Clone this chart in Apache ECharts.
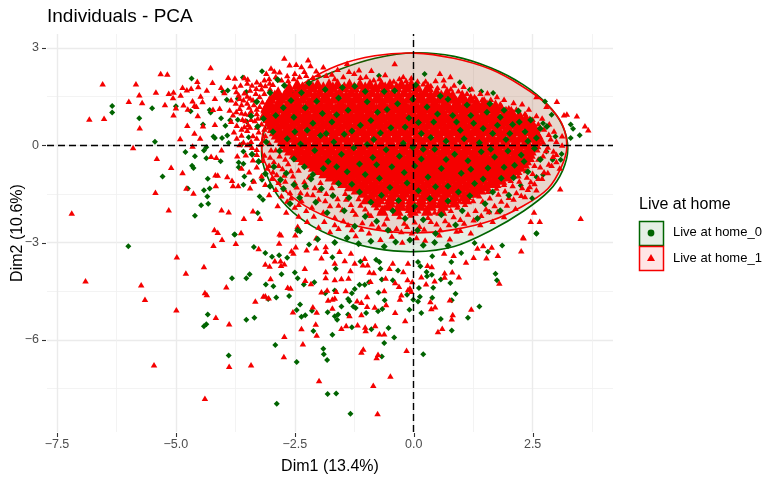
<!DOCTYPE html>
<html><head><meta charset="utf-8">
<script src="https://cdn.jsdelivr.net/npm/echarts@6/dist/echarts.min.js"></script>
<style>html,body{margin:0;background:#fff}#c{width:771px;height:479px}</style></head>
<body><div id="c"></div>
<script>
const xTicks=[-7.5,-5,-2.5,0,2.5];
const xTickLabels=['−7.5','−5.0','−2.5','0.0','2.5'];
const xMinor=[-6.25,-3.75,-1.25,1.25,3.75];
const yTicks=[-6,-3,0,3];
const yTickLabels=['−6','−3','0','3'];
const yMinor=[-7.5,-4.5,-1.5,1.5];
const ellipseRed=[[3.22,-.03],[3.11,.68],[2.79,1.27],[2.28,1.82],[1.62,2.34],[.84,2.68],[.01,2.84],[-.82,2.76],[-1.6,2.46],[-2.26,1.96],[-2.77,1.36],[-3.09,.72],[-3.2,0],[-3.09,-.65],[-2.77,-1.31],[-2.26,-1.89],[-1.6,-2.33],[-.82,-2.6],[.01,-2.7],[.84,-2.6],[1.62,-2.33],[2.28,-1.89],[2.82,-1.34],[3.11,-.65]];
const ellipseGreen=[[3.24,-.1],[3.13,.6],[2.81,1.26],[2.3,1.87],[1.63,2.38],[.85,2.74],[.02,2.85],[-.81,2.68],[-1.59,2.32],[-2.26,1.88],[-2.77,1.33],[-3.09,.68],[-3.2,-.2],[-3.09,-.92],[-2.77,-1.72],[-2.26,-2.38],[-1.59,-2.87],[-.81,-3.18],[.02,-3.28],[.85,-3.12],[1.63,-2.62],[2.32,-2.02],[2.85,-1.4],[3.13,-.78]];
// Overplotted mass of Live at home_1 (rows: y, then x values)
const redCoreRows=[
[1.9,[-2.45,-2.22,-2.02,-1.78,-1.6,-1.35,-1.13,-.92,-.68,-.5,-.26,-.05]],
[1.8,[-2.62,-2.34,-2.12,-1.9,-1.7,-1.46,-1.25,-1.02,-.8,-.6,-.36,-.14,.08,.3]],
[1.65,[-2.85,-2.63,-2.42,-2.2,-1.98,-1.75,-1.55,-1.31,-1.08,-.88,-.64,-.44,-.2,.03,.24,.48,.7]],
[1.55,[-2.92,-2.72,-2.5,-2.3,-2.08,-1.86,-1.64,-1.42,-1.2,-.98,-.76,-.54,-.32,-.08,.14,.36,.58,.82,1.02]],
[1.45,[-3,-2.78,-2.55,-2.34,-2.1,-1.88,-1.67,-1.43,-1.22,-1,-.78,-.55,-.34,-.1,.12,.34,.55,.78,1,1.2]],
[1.35,[-3.04,-2.84,-2.62,-2.44,-2.2,-1.98,-1.78,-1.54,-1.32,-1.1,-.9,-.66,-.44,-.22,0,.22,.44,.66,.9,1.1,1.32,1.48]],
[1.25,[-3.08,-2.86,-2.66,-2.42,-2.2,-1.98,-1.76,-1.54,-1.33,-1.1,-.87,-.66,-.44,-.22,0,.22,.44,.66,.88,1.1,1.32,1.54,1.72]],
[1.15,[-3.1,-2.96,-2.76,-2.54,-2.32,-2.1,-1.88,-1.65,-1.44,-1.22,-1,-.78,-.56,-.34,-.12,.1,.32,.54,.76,.98,1.2,1.42,1.64,1.84]],
[1.05,[-3.1,-2.9,-2.67,-2.45,-2.24,-2.02,-1.8,-1.57,-1.35,-1.13,-.92,-.7,-.47,-.25,-.03,.19,.41,.62,.85,1.07,1.28,1.5,1.72,1.94,2.05]],
[.95,[-3.12,-2.95,-2.74,-2.52,-2.3,-2.08,-1.86,-1.64,-1.42,-1.2,-.98,-.76,-.54,-.32,-.1,.12,.34,.56,.78,1,1.22,1.44,1.66,1.88,2.1,2.22]],
[.85,[-3.06,-2.84,-2.62,-2.4,-2.18,-1.96,-1.74,-1.52,-1.3,-1.08,-.86,-.64,-.42,-.2,.02,.24,.46,.68,.9,1.12,1.34,1.56,1.78,2,2.22,2.36]],
[.75,[-3.02,-2.92,-2.7,-2.48,-2.26,-2.04,-1.82,-1.6,-1.38,-1.16,-.94,-.72,-.5,-.28,-.06,.16,.38,.6,.82,1.04,1.26,1.48,1.7,1.92,2.14,2.36,2.44]],
[.65,[-3,-2.78,-2.56,-2.33,-2.12,-1.9,-1.68,-1.45,-1.23,-1.02,-.8,-.58,-.36,-.14,.08,.3,.52,.74,.96,1.18,1.4,1.62,1.84,2.06,2.28,2.5]],
[.55,[-2.96,-2.86,-2.64,-2.42,-2.2,-1.98,-1.76,-1.54,-1.32,-1.1,-.88,-.66,-.44,-.22,0,.22,.44,.66,.88,1.1,1.32,1.54,1.76,1.98,2.2,2.42,2.54]],
[.45,[-2.92,-2.7,-2.48,-2.26,-2.04,-1.82,-1.6,-1.38,-1.16,-.94,-.72,-.5,-.28,-.06,.16,.38,.6,.82,1.04,1.26,1.48,1.7,1.92,2.14,2.36,2.56]],
[.35,[-2.88,-2.78,-2.56,-2.34,-2.12,-1.9,-1.68,-1.46,-1.24,-1.02,-.8,-.58,-.36,-.14,.08,.3,.52,.74,.96,1.18,1.4,1.62,1.84,2.06,2.28,2.5,2.6]],
[.25,[-2.82,-2.6,-2.38,-2.16,-1.94,-1.72,-1.5,-1.28,-1.06,-.84,-.62,-.4,-.18,.04,.26,.48,.7,.92,1.14,1.36,1.58,1.8,2.02,2.24,2.46,2.62]],
[.15,[-2.76,-2.7,-2.48,-2.26,-2.04,-1.82,-1.6,-1.38,-1.16,-.94,-.72,-.5,-.28,-.06,.16,.38,.6,.82,1.04,1.26,1.48,1.7,1.92,2.14,2.36,2.58]],
[.05,[-2.72,-2.5,-2.28,-2.06,-1.84,-1.62,-1.4,-1.18,-.96,-.74,-.52,-.3,-.08,.14,.36,.58,.8,1.02,1.24,1.46,1.68,1.9,2.12,2.34,2.56]],
[-.05,[-2.66,-2.4,-2.18,-1.96,-1.74,-1.52,-1.3,-1.08,-.86,-.64,-.42,-.2,.02,.24,.46,.68,.9,1.12,1.34,1.56,1.78,2,2.22,2.44,2.54]],
[-.15,[-2.6,-2.38,-2.16,-1.94,-1.72,-1.5,-1.28,-1.06,-.84,-.62,-.4,-.18,.04,.26,.48,.7,.92,1.14,1.36,1.58,1.8,2.02,2.24,2.46]],
[-.25,[-2.5,-2.28,-2.06,-1.84,-1.62,-1.4,-1.18,-.96,-.74,-.52,-.3,-.08,.14,.36,.58,.8,1.02,1.24,1.46,1.68,1.9,2.12,2.34,2.44]],
[-.35,[-2.42,-2.2,-1.98,-1.76,-1.54,-1.32,-1.1,-.88,-.66,-.44,-.22,0,.22,.44,.66,.88,1.1,1.32,1.54,1.76,1.98,2.2,2.42]],
[-.45,[-2.32,-2.1,-1.88,-1.66,-1.44,-1.22,-1,-.78,-.56,-.34,-.12,.1,.32,.54,.76,.98,1.2,1.42,1.64,1.86,2.08,2.3,2.36]],
[-.55,[-2.22,-2,-1.78,-1.56,-1.34,-1.12,-.9,-.68,-.46,-.24,-.02,.2,.42,.64,.86,1.08,1.3,1.52,1.74,1.96,2.18,2.32]],
[-.65,[-2.1,-1.88,-1.66,-1.44,-1.22,-1,-.78,-.56,-.34,-.12,.1,.32,.54,.76,.98,1.2,1.42,1.64,1.86,2.08,2.24]],
[-.75,[-2,-1.78,-1.56,-1.34,-1.12,-.9,-.68,-.46,-.24,-.02,.2,.42,.64,.86,1.08,1.3,1.52,1.74,1.96,2.16]],
[-.85,[-1.88,-1.66,-1.44,-1.22,-1,-.78,-.56,-.34,-.12,.1,.32,.54,.76,.98,1.2,1.42,1.64,1.86,2.06]],
[-.95,[-1.75,-1.53,-1.31,-1.09,-.87,-.65,-.43,-.21,.01,.23,.45,.67,.89,1.11,1.33,1.55,1.77,1.95]],
[-1.05,[-1.62,-1.4,-1.18,-.96,-.74,-.52,-.3,-.08,.14,.36,.58,.8,1.02,1.24,1.46,1.68,1.84]],
[-1.15,[-1.48,-1.26,-1.04,-.82,-.6,-.38,-.16,.06,.28,.5,.72,.94,1.16,1.38,1.6,1.72]],
[-1.25,[-1.34,-1.12,-.9,-.68,-.46,-.24,-.02,.2,.42,.64,.86,1.08,1.3,1.52]],
[-1.35,[-1.2,-.98,-.76,-.54,-.32,-.1,.12,.34,.56,.78,1,1.22,1.4]],
[-1.45,[-1.06,-.84,-.62,-.4,-.18,.04,.26,.48,.7,.92,1.14,1.28]],
[-1.55,[-.9,-.68,-.46,-.24,-.02,.2,.42,.64,.86,1.06]],
[-1.65,[-1,-.72,-.5,-.28,-.06,.16,.38,.6,.82,1.1]],
[-1.75,[-.78,-.5,-.28,-.06,.16,.38,.6,.86]],
[-1.85,[-.52,-.3,-.08,.14,.36,.62]],
[-2,[-.66,-.34,-.02,.28,.58]]
];
// Individually readable triangles, Live at home_1
const redEdge=[[-6.82,.81],[-6.51,.83],[-6.54,1.9],[-7.19,-2.09],[-5.84,1.9],[-5.77,1.56],[-5.99,1.36],[-5.71,1.32],[-5.76,.54],[-5.9,-.07],[-5.42,1.64],[-5.32,2.21],[-5.18,2.2],[-5.23,1.26],[-5.4,-.4],[-5.1,-.68],[-5.43,-1.45],[-5.15,-1.99],[-4.86,-.84],[-4.91,.21],[-5.05,.94],[-5.15,1.6],[-5.05,1.64],[-5.06,1.47],[-4.9,1.55],[-4.86,1.79],[-5,1.16],[-4.84,1.25],[-4.75,1.12],[-4.76,.62],[-4.65,1.37],[-4.61,1.23],[-4.77,1.71],[-4.68,1.76],[-4.55,1.97],[-4.53,1.81],[-4.27,2.4],[-4.23,1.94],[-4.35,1.7],[-4.48,1.52],[-4.44,1.35],[-4.57,1.2],[-4.54,.92],[-4.43,.6],[-4.61,.38],[-4.49,.22],[-4.65,-.02],[-4.18,1.45],[-4.22,1.11],[-4.08,1.14],[-4.18,.65],[-4.26,-.34],[-4.15,-.37],[-4.04,-.14],[-4.17,-.91],[-4.12,-.92],[-4.78,-1.32],[-4.63,-1.47],[-4.16,-1.24],[-4.04,-1.99],[-3.89,-2.05],[-3.92,-.96],[-3.82,-1.08],[-3.8,-1.24],[-3.69,-1.24],[-3.57,-2.25],[-3.38,-2.02],[-3.23,-2.25],[-3.44,-1.31],[-3.9,2.1],[-3.76,2.07],[-3.56,2.09],[-3.49,2.04],[-4.05,1.79],[-3.76,1.81],[-3.73,1.66],[-3.98,1.63],[-3.84,1.4],[-3.66,1.45],[-3.87,1.09],[-3.73,1.04],[-3.71,-.32],[-3.53,-.29],[-3.38,-.45],[-4.19,-2.6],[-4.12,-2.68],[-3.63,-2.69],
[-6.9,-4.18],[-5.73,-4.3],[-5.65,-4.75],[-4.98,-3.44],[-4.79,-3.94],[-4.99,-5.07],[-5.46,-6.77],[-4.41,-3.74],[-4.39,-4.54],[-4.35,-4.6],[-4.39,-7.8],[-4.16,-5.3],[-3.88,-5.5],[-3.94,-4.36],[-3.88,-6.81],[-3.42,-6.77],[-4.21,-3.08],[-4.03,-2.9],[-3.74,-3.02],[-3.26,-3.18],[-3.33,-4.8],[-3.16,-4.65],[-3.12,-4.64],[-3.05,-4.7],[-3.01,-4.11],[-3.12,-3.66],[-3.03,-3.72],[-2.92,-3.56],[-2.8,-3.56],[-2.79,-3.7],[-2.72,-3.65],[-2.83,-3.01],[-2.82,-2.73],[-2.79,-2.76],[-2.49,-2.76],[-2.48,-3.13],[-2.57,-3.25],[-2.53,-3.32],[-2.65,-4.38],[-2.59,-4.4],[-2.72,-5.89],[-2.73,-6.51],[-2.54,-5.13],[-2.29,-3.79],[-2.28,-4.16],[-2.16,-4.26],[-2.25,-3.22],[-2.05,-3.16],[-2.05,-2.85],[-2.36,-5.65],[-2.33,-6.12],[-2.12,-4.98],[-2.04,-5.14],[-2.06,-5.51],[-2.04,-5.85],[-1.99,-7.25],[-1.94,-3.47],[-1.85,-3.12],[-1.85,-3.27],[-1.85,-3.89],[-1.85,-4.08],[-1.94,-4.52],[-1.8,-4.77],[-1.82,-4.46],
[2.31,-2.85],[2.26,-3.25],[1.77,-3.39],[1.53,-3.47],[1.26,-3.45],[1.1,-3.6],[1.64,-3.14],[1.34,-3.17],[1.46,-3.09],[1.8,-4.25],[.81,-3.9],[.65,-3.93],[.65,-4.06],[.95,-4.05],[.44,-4.18],[.26,-4.27],[.16,-4.05],[.29,-3.7],[.38,-3.74],[.64,-3.32],[.84,-3.39],[.76,-4.76],[.35,-4.82],[.37,-5.03],[.45,-4.98],[1.21,-5.05],[.82,-5.22],[.8,-5.35],[.6,-5.64],[.51,-5.74],[-.08,-4.4],[-.12,-4.45],[-.05,-4.5],[-.13,-4.14],[-.03,-4.2],[-.18,-5.4],[-.15,-6.32],[-.26,-4.61],[-.29,-4.74],[-.39,-5.15],[-.31,-4.35],[-.39,-4.23],[-.44,-3.63],[-.59,-4.09],[-.58,-4.91],[-.82,-4.99],[-.98,-4.96],[-.98,-4.66],[-1.1,-4.84],[-1.1,-5.22],[-1.19,-4.79],[-.62,-4.48],[-.91,-4.19],[-.84,-3.92],[-.93,-3.91],[-1.37,-4.09],[-1.52,-4.11],[-1.66,-4.14],[-1.43,-4.48],[-1.63,-4.5],[-1.66,-4.71],[-1.71,-4.74],[-1.71,-5.02],[-1.35,-5.25],[-1.52,-5.64],[-1.42,-5.56],[-1.18,-5.53],[-1.02,-5.6],[-1.01,-5.71],[-.81,-5.56],[-.72,-5.81],[-.62,-5.81],[-1.06,-6.28],[-1.1,-6.37],[-.75,-6.44],[-.78,-6.54],[-.49,-7.11],[-.85,-7.4],[-.76,-8.27],[-1.45,-3.55],[-1.66,-3.63],[-1.33,-3.86],[-.97,-3.68],[-1.07,-3.68],[-1.24,-3.63],[-1.56,-3.27],[-1.32,-3.32],[-1.03,-3.48],[-.51,-3.79],[-.22,-3.89],[-.12,-3.63],
[3.51,-2.25],[3.08,-1.34],[3.67,.48],[3.6,.6],[3.43,.91],[3.22,.96],[3.16,.94],[3.01,1.36],[2.53,-2.06],[2.46,-2.34],[2.65,-2.34],[2.3,-2.83],[3.12,.29],[3.12,.01],[3,-.5],[3.07,-.7],[2.93,-.34],[2.58,1.5],[2.79,1.2],[2.44,-1.27],[2.58,-1.37],[2.34,-1.58],[-.4,2.52],[.55,2.22],[.77,2.12],[-1.15,2.33],[-.89,2.31],[-1.4,2.53],[.46,2],[.63,2.02],[-.22,2.12]];
// Triangles around the edge of the mass, Live at home_1
const redBand=[[-2.72,2.69],[-2.61,2.48],[-2.47,2.5],[-2.36,2.43],[-2.22,2.64],[-2.17,2.46],[-3.1,2.22],[-3,2.38],[-2.93,2.29],[-3.14,2.02],[-2.82,2.27],[-3.03,1.92],[-3.31,1.76],[-3.24,1.5],[-3.38,1.4],[-2.66,2.15],[-2.5,2.22],[-2.3,2.28],[-2.05,2.3],[-1.9,2.42],[-1.72,2.2],[-1.6,2.34],[-1.25,2.22],[-1,2.12],[-.6,2.18],[-.05,2.08],[.25,1.98],[.85,1.86],[1.05,1.82],[1.22,1.74],[1.4,1.6],[1.55,1.62],[1.75,1.5],[1.9,1.42],[2.1,1.32],[2.28,1.28],[2.42,1.12],[2.58,.92],[2.7,.84],[2.85,.66],[2.95,.44],[2.88,.2],[3,.12],[2.82,-.05],[2.94,-.18],[2.72,-.32],[2.84,-.58],[2.66,-.66],[2.74,-.82],[2.5,-.86],[2.62,-1.02],[2.38,-.98],[2.46,-1.12],[2.22,-1.1],[2.28,-1.3],[2.08,-1.24],[2.16,-1.46],[1.92,-1.4],[2,-1.6],[1.78,-1.5],[1.84,-1.72],[1.6,-1.62],[1.7,-1.86],[1.45,-1.72],[1.52,-1.96],[1.25,-1.7],[1.3,-2],[1.08,-1.82],[1.14,-2.12],[.92,-1.9],[.98,-2.28],[.78,-2],[.84,-2.2],[.6,-1.98],[.66,-2.32],[.44,-2.06],[.48,-2.42],[.26,-1.96],[.3,-2.22],[.1,-2.02],[.12,-2.5],[-.06,-2.15],[-.04,-2.7],[-.22,-1.92],[-.2,-2.4],[-.4,-2.08],[-.36,-2.56],[-.55,-1.86],[-.56,-2.24],[-.7,-2.02],[-.74,-2.52],[-.86,-1.76],[-.9,-2.16],[-1.02,-1.96],[-1.08,-2.38],[-1.16,-1.64],[-1.22,-2.12],[-1.32,-1.82],[-1.38,-2.44],[-1.44,-1.48],[-1.5,-1.98],[-1.6,-1.64],[-1.66,-2.22],[-1.72,-1.3],[-1.76,-1.86],[-1.84,-1.48],[-1.9,-2.06],[-1.96,-1.14],[-2,-1.66],[-2.08,-1.3],[-2.14,-1.9],[-2.2,-.96],[-2.24,-1.5],[-2.3,-1.12],[-2.36,-1.7],[-2.42,-.76],[-2.46,-1.28],[-2.54,-.94],[-2.6,-1.46],[-2.64,-.56],[-2.7,-1.1],[-2.76,-.72],[-2.82,-.32],[-2.88,-.9],[-2.94,-.5],[-3,-.14],[-3.08,-.7],[-3.14,-.3],[-3.2,.06],[-3.3,-.12],[-3.4,-.06],[-3.5,.02],[-3.12,.3],[-3.26,.42],[-3.38,.3],[-3.5,.46],[-3.62,.32],[-3.72,.22],[-3.2,.66],[-3.34,.76],[-3.48,.64],[-3.6,.8],[-3.72,.62],[-3.84,.74],[-3.3,.98],[-3.42,1.06],[-3.54,.98],[-3.66,1.14],[-3.24,1.2],[-3.36,1.26],[-3.5,1.3],[-3.62,1.26],[-3.2,1.74],[-3.3,1.96],[-3.44,1.7],[-3.56,1.62],[-3.04,2.06],[-3.64,1.86],[-3.22,.04],[-3.62,-.7],[-3.46,-.82],[-3.3,-.66],[-3.2,-.94],[-3.36,-1.1],[-3.12,-1.2],[-2.98,-1.02],[-2.9,-1.36],[-3.04,-1.52],[-2.78,-1.56],[-2.66,-1.72],[-2.86,-1.86],[-2.5,-1.9],[-2.68,-2.06],[-2.42,-2.18],[-2.24,-2.34],[-2.44,-2.5],[-2,-2.52],[-1.76,-2.66],[-1.58,-2.56],[-1.22,-2.78],[-.94,-2.7],[-.7,-2.9],[-.46,-2.8],[-.24,-2.98],[.06,-2.84],[.24,-2.92],[.54,-2.76],[.76,-2.88],[.98,-2.62],[1.2,-2.7],[1.4,-2.44],[1.66,-2.34],[1.9,-2.2],[2.14,-1.94]];
const redBand2=[[-2.9,2.12],[-2.78,2.02],[-2.64,2],[-2.52,2.06],[-2.4,2.12],[-2.26,2.16],[-2.12,2.1],[-2,2.18],[-1.84,2.16],[-1.66,2.06],[-1.48,2.12],[-1.36,2.28],[-1.12,2.1],[-.84,2.02],[-.72,2.06],[-.42,1.98],[-.3,2.06],[-.16,2],[.08,1.98],[.2,1.9],[.36,1.84],[.5,1.78],[.64,1.84],[.78,1.74],[.94,1.68],[1.12,1.6],[1.28,1.5],[1.44,1.42],[1.62,1.42],[1.82,1.28],[2,1.16],[2.16,1.12],[2.34,.98],[2.5,.8],[2.62,.66],[2.74,.5],[2.84,.34],[2.72,.1],[2.66,.26],[2.78,-.16],[2.62,-.42],[2.54,-.62],[2.36,-.78],[2.2,-.94],[2.04,-1.08],[1.9,-1.2],[1.74,-1.32],[1.56,-1.42],[1.38,-1.56],[1.16,-1.6],[.96,-1.72],[.72,-1.84],[.5,-1.86],[-.12,-2],[-.3,-2.2],[-.62,-1.9],[-.78,-1.92],[-.96,-2.1],[-1.12,-1.84],[-1.28,-2],[-1.42,-1.66],[-1.58,-1.84],[-1.7,-1.52],[-1.86,-1.7],[-1.98,-1.38],[-2.12,-1.52],[-2.26,-1.28],[-2.38,-1.46],[-2.5,-1.14],[-2.58,-.78],[-2.72,-.92],[-2.7,-.42],[-2.84,-.62],[-2.9,-.14],[-3.02,-.36],[-3.04,.08],[-3.14,.16],[-3,.5],[-3.14,.5],[-3.08,.84],[-3.18,.92],[-3.16,1.1],[-3.18,1.34],[-3.14,1.6],[-3.02,1.74],[-2.96,1.88],[-3.12,1.84],[-3.42,.12],[-3.58,.1],[-3.3,.22],[-3.44,.56],[-3.56,.58],[-3.3,.56],[-3.42,.8],[-3.54,.76],[-3.28,.84],[-3.46,.96],[-3.62,1],[-3.3,1.12],[-3.46,1.18],[-3.58,1.4],[-3.44,1.46],[-3.32,1.6],[-3.5,1.52],[-3.4,1.86],[-3.5,1.92],[-3.22,1.88],[-3.68,1.56],[-3.74,1.3],[-3.8,.94],[-3.62,.5],[-3.78,.42],[-3.66,.02],[-3.3,-.28],[-3.18,-.46],[-3.04,-.62],[-2.96,-.82],[-2.84,-1.14],[-2.72,-1.34],[-2.58,-1.62],[-2.42,-1.82],[-2.26,-2],[-2.1,-2.18],[-1.88,-2.34],[-1.66,-2.44],[-1.48,-2.32],[-1.3,-2.6],[-1.1,-2.58],[-.88,-2.42],[-.62,-2.42],[-.5,-2.62],[-.26,-2.66],[-.14,-2.5],[.02,-2.36],[.22,-2.58],[.36,-2.34],[.56,-2.6],[.74,-2.44],[.9,-2.64],[1.06,-2.4],[1.26,-2.3],[1.42,-2.16],[1.58,-2.04],[1.76,-2.04],[1.96,-1.84],[2.1,-1.66],[2.26,-1.54],[2.4,-1.36],[2.54,-1.18],[2.7,-1.02],[2.82,-.84],[2.9,-.62],[3,-.28]];
// Live at home_0 diamonds
const greenEdge=[[-6,-3.11],[-3.36,-3.14],[-3.76,-2.75],[-3.12,-3.32],[-2.98,-3.44],[-2.83,-3.39],[-2.66,-3.47],[-2.78,-3.98],[-2.5,-3.92],[-2.44,-4.1],[-2.31,-4.29],[-2.09,-4.22],[-2.2,-3.06],[-2.39,-2.66],[-3.45,-3.98],[-3.52,-4.1],[-3.82,-4.1],[-3.11,-4.29],[-2.95,-4.35],[-2.62,-4.65],[-2.89,-4.69],[-3.06,-4.74],[-4.33,-5.22],[-4.36,-5.52],[-4.41,-5.58],[-3.52,-5.38],[-3.35,-5.32],[-2.91,-6.16],[-3.89,-6.48],[-2.46,-6.68],[-2.88,-7.97],[-2.39,-4.91],[-2.46,-5.08],[-2.36,-5.29],[-2.28,-5.24],[-2.14,-5.1],[-2.11,-5.73],[-1.9,-6.27],[-1.89,-6.44],[-1.82,-6.62],[-1.81,-7.67],[-1.81,-5.15],[-1.86,-4.56],
[-6.34,1.21],[-6.34,1.01],[-5.77,.83],[-5.5,1.14],[-5.44,.11],[-5.28,-.96],[-4.67,2.06],[-5,1.2],[-4.69,1.05],[-4.8,-.21],[-4.6,-.34],[-4.66,-.63],[-4.63,-.7],[-4.75,-1.33],[-4.41,-1.39],[-4.29,-1.33],[-4.34,-1.58],[-4.32,-1.8],[-4.47,-1.85],[-4.6,-2.17],[-4.33,-1.03],[-4.21,.27],[-4.18,.22],[-4.03,.22],[-3.92,.3],[-3.89,.07],[-4.36,-.06],[-4.41,-.16],[-4.36,-.4],[-4.06,-.49],[-4.29,1.09],[-4.27,1.01],[-4.05,.83],[-3.96,.6],[-3.86,.77],[-4.43,.64],[-4.01,1.65],[-3.91,1.69],[-3.93,1.4],[-3.7,1.43],[-3.52,1.64],[-3.59,2.09],[-3.77,-2.75],[-3.28,-2.09],[-3.68,-.53],[-3.68,-.68],[-3.58,-.57],[-3.56,-.96],[-3.58,-1.22],[-3.19,-1.06],[-3.38,-1.11],[-3.62,.02],[-3.58,-.19],[-3.45,.02],[-3.47,.25],[-3.51,.73],[-3.7,.79],[-3.24,-1.58],[-3.17,-1.68],[-3.19,2.28],
[2.58,-2.71],[1.86,-3.09],[1.56,-3.28],[1.72,-3.96],[1.75,-4.16],[1.38,-4.97],[1.14,-5.32],[.88,-4.58],[.77,-4.25],[.8,-4.78],[.8,-5.71],[.57,-5.36],[.57,-4.14],[.41,-4.39],[.38,-3.99],[.27,-3.91],[.28,-4.04],[.39,-4.7],[.13,-4.67],[.09,-4.82],[.16,-5.17],[-.09,-5.07],[.11,-4.4],[-.01,-4.76],[-.14,-4.61],[.2,-6.44],[-.41,-5.93],[-.53,-5.63],[-.62,-6.1],[-.67,-6.51],[-.89,-5.67],[-1.3,-5.61],[-1.71,-5.84],[-1.66,-5.27],[-1.61,-5.38],[-1.59,-5.22],[-1.38,-5.22],[-1,-5.17],[-.75,-5.12],[-.66,-5.05],[-.61,-4.78],[-.74,-4.54],[-1.52,-4.97],[-1.27,-4.97],[-1.22,-5.02],[-1.38,-4.74],[-1.35,-4.81],[-1.3,-4.56],[-1.24,-4.43],[-1.14,-4.3],[-1.03,-4.3],[-.94,-4.22],[-.67,-4.14],[-.44,-4.16],[-1.66,-4.48],[-1.64,-3.81],[-.7,-3.81],[-.79,-3.53],[-.72,-3.6],[-.33,-3.86],[-1.12,-3.58],[-1.71,-3.45],[-1.63,-7.65],[-1.33,-8.28],[.09,-3.6],[.14,-3.73],[.39,-3.42],[.79,-3.6],[1,-3.32],[1.28,-3.01],
[.23,2.2],[.97,1.94],[-.73,2.14],[3.49,.31],[3.3,.22],[3.3,.64],[3.35,.51],[3.11,-.27],[3.09,-.45],[2.58,-2.73],[2.72,-.91],[2.58,-.98],[2.49,-1.63],[2.25,-1.24],[1.59,-2.06],[2.9,.94],[1.18,1.71],[1.42,1.66],[1.67,1.61],[2.76,1.35],[2.72,.68],[2.98,.27],[2.79,-.19],[2.92,-.45]];
const greenMass=[[-3.02,1.62],[-2.86,2.02],[-2.72,1.84],[-2.58,1.38],[-2.9,.92],[-2.74,1.16],[-2.52,.86],[-2.36,1.62],[-2.2,1.92],[-2.04,1.36],[-1.92,.98],[-1.86,1.72],[-1.72,.72],[-1.58,1.46],[-1.46,.34],[-1.38,1.08],[-1.24,1.82],[-1.12,.62],[-.98,1.34],[-.84,.18],[-.76,1.02],[-.62,1.66],[-.48,.54],[-.34,1.28],[-.22,.06],[-.1,.84],[.04,1.86],[.16,.36],[.28,1.18],[.42,.72],[.56,1.52],[.68,.12],[.82,.92],[.98,.46],[1.12,1.24],[1.26,.68],[1.38,.08],[1.54,1.02],[1.66,.36],[1.82,.86],[1.94,.18],[2.08,.64],[2.2,1.06],[2.34,.42],[2.46,.78],[2.58,.22],[2.66,.52],[2.8,.58],
[-3.1,.1],[-2.96,.42],[-2.82,-.18],[-2.66,.2],[-2.52,-.42],[-2.38,.04],[-2.24,.46],[-2.08,-.16],[-1.96,.3],[-1.8,-.5],[-1.68,.1],[-1.52,-.28],[-1.4,-.82],[-1.26,-.08],[-1.14,-.58],[-.98,.02],[-.86,-.38],[-.72,-1.02],[-.58,-.14],[-.46,-.66],[-.3,-.34],[-.14,-1.16],[-.02,-.06],[.02,-.64],[.16,-.42],[.3,-.98],[.44,-.12],[.58,-.72],[.72,-1.26],[.86,-.28],[1,-.86],[1.14,-.48],[1.28,-1.18],[1.42,-.2],[1.56,-.7],[1.7,-.36],[1.84,-1.02],[1.98,-.18],[2.12,-.62],[2.26,-.3],[2.4,-.82],[2.54,-.1],[2.66,-.44],
[-2.94,-.66],[-2.8,-1.06],[-2.68,-.86],[-2.52,-1.22],[-2.4,-1.62],[-2.28,-1.26],[-2.16,-1.04],[-2.06,-1.76],[-1.94,-1.34],[-1.82,-2.08],[-1.7,-1.56],[-1.58,-1.18],[-1.46,-2.02],[-1.36,-1.62],[-1.24,-2.5],[-1.14,-1.44],[-1.02,-2.2],[-.9,-1.76],[-.78,-2.34],[-.68,-1.54],[-.54,-2.62],[-.44,-2.02],[-.32,-1.7],[-.18,-2.26],[-.08,-2.92],[.02,-1.88],[.08,-2.62],[.2,-2.3],[.34,-1.64],[.46,-2.72],[.58,-2.14],[.72,-1.72],[.88,-2.46],[1.02,-2.02],[1.18,-1.56],[1.34,-2.26],[1.5,-1.8],[1.66,-1.44],[1.82,-2.02],[2,-1.54],[-2.44,-2.62],[-2.02,-2.9],[-1.66,-3],[-1.4,-2.86],[-1.16,-3.04],[-.9,-2.96],[-.62,-3.12],[-.38,-2.98],[.2,-3.08],[.44,-3],[.72,-3.1],
[-3.28,.58],[-3.42,.9],[-3.3,1.34],[-3.16,.82],[-3.4,-.28],[-3.26,-.5],[-3.12,-.88],[-3.02,-1.26],[-2.74,-1.34],[-2.6,-1.8],
[-2.5,.42],[-2.28,1.16],[-2.12,.68],[-1.84,.36],[-1.62,.94],[-1.5,1.78],[-1.3,.44],[-1.02,1.66],[-.9,.76],[-.7,.38],[-.56,1.1],[-.4,1.68],[-.18,.56],[-.02,1.42],[.1,.7],[.36,.24],[.5,.96],[.72,1.42],[.9,.72],[1.06,.2],[1.2,.92],[1.46,.52],[1.6,1.28],[1.76,.62],[1.9,1.08],[2.02,.36],[2.22,.72],[2.4,.12],[-2.3,-.66],[-2.12,-.9],[-1.9,-.72],[-1.62,-.66],[-1.3,-1.2],[-1.02,-.9],[-.78,-.6],[-.5,-1.3],[-.2,-.84],[.1,-1.4],[.2,-.12],[.46,-1.28],[.68,-.44],[.94,-1.44],[1.2,-.74],[1.46,-1.04],[1.62,-.12],[1.9,-.68],[2.1,-1],[2.32,-.5]];
const clipX=[-7.71,4.19], clipY=[-8.84,3.43];
function pairsFromRows(rows){const out=[];rows.forEach(r=>r[1].forEach(x=>out.push([x,r[0]])));return out;}
function ellipse(points,fill,stroke,lw){
 return {type:'custom',coordinateSystem:'cartesian2d',data:[[0,0]],silent:true,animation:false,z:3,
  renderItem:(p,api)=>({type:'polygon',shape:{points:points.map(q=>api.coord(q)),smooth:.33},
   style:{fill:fill,stroke:stroke,lineWidth:lw}})};
}
function scatter(name,data,symbol,size,color){
 return {type:'scatter',name:name,data:data,symbol:symbol,symbolSize:size,z:3,silent:true,animation:false,progressive:0,large:false,
  itemStyle:{color:color,opacity:1,borderWidth:0}};
}
// Tick marks, placed through the axis scales just outside the panel
function tickMarks(){
 const line=(a,b)=>({type:'line',shape:{x1:a[0],y1:a[1],x2:b[0],y2:b[1]},style:{stroke:'#333',lineWidth:1.1}});
 return {type:'custom',coordinateSystem:'cartesian2d',data:[[0,0]],silent:true,animation:false,z:9,clip:false,
  renderItem:(p,api)=>({type:'group',children:[
   ...xTicks.map(t=>{const c=api.coord([t,clipY[0]]);return line([Math.round(c[0])+.5,c[1]+1],[Math.round(c[0])+.5,c[1]+5]);}),
   ...yTicks.map(t=>{const c=api.coord([clipX[0],t]);return line([c[0]-5,Math.round(c[1])+.5],[c[0]-1,Math.round(c[1])+.5]);})
  ]})};
}
const GREEN='#006400',RED='#f50000';
const chart=echarts.init(document.getElementById('c'),null,{renderer:'canvas'});
chart.setOption({
 animation:false,backgroundColor:'#fff',
 textStyle:{fontFamily:'Liberation Sans'},
 title:{text:'Individuals - PCA',left:42,top:2,textStyle:{fontSize:19,fontWeight:'normal',color:'#000',fontFamily:'Liberation Sans'}},
 grid:{left:47,right:158,top:34,bottom:47,containLabel:false,outerBoundsMode:'none'},
 xAxis:[{type:'value',min:clipX[0],max:clipX[1],name:'Dim1 (13.4%)',nameLocation:'middle',nameGap:27,nameMoveOverlap:false,
   nameTextStyle:{fontSize:16,color:'#000'},axisLine:{show:false},
   axisTick:{show:false,customValues:xTicks},
   axisLabel:{customValues:xTicks,color:'#4d4d4d',fontSize:12.5,margin:6,formatter:v=>xTickLabels[xTicks.indexOf(v)]},
   splitLine:{show:true,lineStyle:{color:'#ebebeb',width:1.4}}},
  {type:'value',min:clipX[0],max:clipX[1],position:'bottom',axisLine:{show:false},
   axisTick:{show:false,customValues:xMinor},axisLabel:{show:false,customValues:xMinor},
   splitLine:{show:true,lineStyle:{color:'#f0f0f0',width:.8}}}],
 yAxis:[{type:'value',min:clipY[0],max:clipY[1],name:'Dim2 (10.6%)',nameLocation:'middle',nameGap:21,nameMoveOverlap:false,
   nameTextStyle:{fontSize:16,color:'#000'},axisLine:{show:false},
   axisTick:{show:false,customValues:yTicks},
   axisLabel:{customValues:yTicks,color:'#4d4d4d',fontSize:12.5,margin:8,formatter:v=>yTickLabels[yTicks.indexOf(v)]},
   splitLine:{show:true,lineStyle:{color:'#ebebeb',width:1.4}}},
  {type:'value',min:clipY[0],max:clipY[1],position:'left',axisLine:{show:false},
   axisTick:{show:false,customValues:yMinor},axisLabel:{show:false,customValues:yMinor},
   splitLine:{show:true,lineStyle:{color:'#f0f0f0',width:.8}}}],
 series:[
  ellipse(ellipseGreen,'rgba(0,100,0,0.1)',GREEN,1.6),
  ellipse(ellipseRed,'rgba(255,0,0,0.1)',RED,1.6),
  scatter('Live at home_0',greenEdge,'diamond',6,GREEN),
  scatter('Live at home_1',pairsFromRows(redCoreRows),'triangle',[12,11],RED),
  scatter('Live at home_1',redEdge,'triangle',[6.5,5.5],RED),
  scatter('Live at home_1',redBand,'triangle',[6.5,5.5],RED),
  scatter('Live at home_1',redBand2,'triangle',[6.5,5.5],RED),
  scatter('Live at home_0',greenMass,'diamond',7,GREEN),
  tickMarks(),
  {type:'line',data:[],z:9,silent:true,symbol:'none',animation:false,
   markLine:{silent:true,symbol:'none',animation:false,label:{show:false},
    lineStyle:{color:'#000',width:1.4,type:[7,4]},
    data:[{xAxis:0},{yAxis:0}]}}
 ],
 graphic:[
  {type:'text',left:639,top:197,style:{text:'Live at home',fontSize:16,fill:'#000',fontFamily:'Liberation Sans'}},
  {type:'rect',shape:{x:639.5,y:221.5,width:24,height:24},style:{fill:'rgba(0,100,0,0.1)',stroke:GREEN,lineWidth:1.5}},
  {type:'circle',shape:{cx:651,cy:233,r:3.4},style:{fill:GREEN}},
  {type:'rect',shape:{x:639.5,y:246.5,width:24,height:24},style:{fill:'rgba(255,0,0,0.1)',stroke:RED,lineWidth:1.5}},
  {type:'polygon',shape:{points:[[651,254],[655,261],[647,261]]},style:{fill:RED}},
  {type:'text',left:673,top:226,style:{text:'Live at home_0',fontSize:13,fill:'#000',fontFamily:'Liberation Sans'}},
  {type:'text',left:673,top:251.5,style:{text:'Live at home_1',fontSize:13,fill:'#000',fontFamily:'Liberation Sans'}}
 ]
});
</script></body></html>
